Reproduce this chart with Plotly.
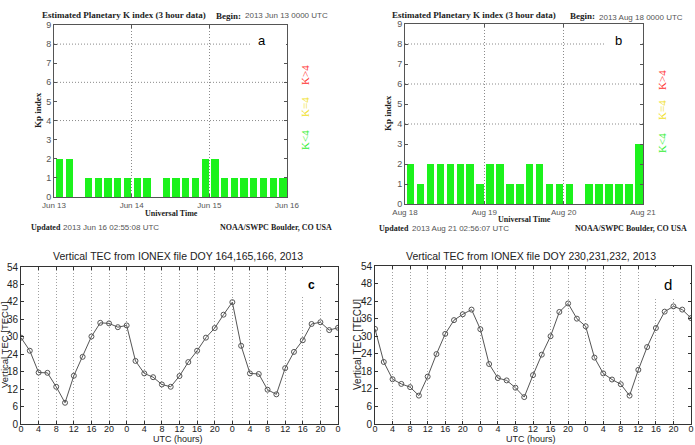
import plotly.graph_objects as go

W, H = 695, 445

# ---------------- data ----------------
slot_hours = list(range(0, 72, 3))
kp_a = [2, 2, 0, 1, 1, 1, 1, 1, 1, 1, 0, 1, 1, 1, 1, 2, 2, 1, 1, 1, 1, 1, 1, 1]
kp_b = [2, 1, 2, 2, 2, 2, 2, 1, 2, 2, 1, 1, 2, 2, 1, 1, 1, 0, 1, 1, 1, 1, 1, 3]
day_ticks = [0, 24, 48, 72]
day_labels_a = ["Jun 13", "Jun 14", "Jun 15", "Jun 16"]
day_labels_b = ["Aug 18", "Aug 19", "Aug 20", "Aug 21"]
kp_thresholds = [4, 6, 8]

tec_hours = list(range(0, 73, 2))
tec_c = [29.7, 25.2, 17.7, 17.6, 12.8, 7.3, 16.6, 23.1, 30.1, 34.8, 34.6, 33.3,
         33.9, 21.7, 17.4, 16.1, 13.6, 12.8, 16.5, 21.3, 25.2, 29.7, 33.0, 37.6,
         41.9, 26.9, 17.4, 17.2, 11.8, 10.2, 19.2, 24.8, 28.8, 34.4, 35.0, 32.3, 33.1]
tec_d = [32.5, 21.2, 15.3, 13.7, 12.6, 9.7, 16.2, 23.9, 30.8, 35.5, 37.5, 39.1,
         32.4, 20.5, 15.7, 14.9, 12.4, 9.2, 16.7, 23.7, 30.0, 38.3, 41.2, 36.0,
         33.4, 22.7, 17.3, 15.2, 13.6, 9.7, 18.5, 26.3, 32.8, 38.4, 40.2, 39.1, 36.2]
utc_tickvals = list(range(0, 73, 4))
utc_ticktext = [str(v % 24) for v in utc_tickvals]


def X(px):
    return px / W


def Y(py):
    return 1 - py / H


# pixel boxes of the four plot areas (left, right, top, bottom)
BOX = {
    "a": (54, 287, 25, 197),
    "b": (405, 643, 24, 204),
    "c": (21, 338, 267, 424),
    "d": (375, 691, 266, 424),
}

fig = go.Figure()

BAR_GREEN = "#1cf21c"
SERIF = "Liberation Serif"
SANS = "Liberation Sans"

# ---------------- bar panels ----------------
fig.add_trace(go.Bar(x=slot_hours, y=kp_a, width=2.25, offset=0.6,
                     marker=dict(color=BAR_GREEN, line=dict(width=0)),
                     xaxis="x", yaxis="y", showlegend=False))
fig.add_trace(go.Bar(x=slot_hours, y=kp_b, width=2.25, offset=0.6,
                     marker=dict(color=BAR_GREEN, line=dict(width=0)),
                     xaxis="x2", yaxis="y2", showlegend=False))

# ---------------- TEC panels ----------------
line_style = dict(color="#555555", width=1)
marker_style = dict(symbol="circle-open", size=5, color="#555555", line=dict(width=1))
fig.add_trace(go.Scatter(x=tec_hours, y=tec_c, mode="lines+markers", line=line_style,
                         marker=marker_style, xaxis="x3", yaxis="y3", showlegend=False))
fig.add_trace(go.Scatter(x=tec_hours, y=tec_d, mode="lines+markers", line=line_style,
                         marker=marker_style, xaxis="x4", yaxis="y4", showlegend=False))

kp_x_common = dict(range=[0, 72], tickvals=day_ticks, showgrid=True, griddash="1px,2px",
                   gridcolor="#8a8a8a", gridwidth=1, showline=True, linecolor="#555555",
                   linewidth=1, mirror="ticks", ticks="inside", ticklen=3,
                   tickcolor="#555555", zeroline=False, ticklabelstandoff=0, automargin=False,
                   tickfont=dict(family=SANS, size=8, color="#555555"))
kp_y_common = dict(range=[0, 9], dtick=1, showgrid=False, showline=True,
                   linecolor="#555555", linewidth=1, mirror="ticks", ticks="inside",
                   ticklen=3, tickcolor="#555555", zeroline=False, automargin=False,
                   tickfont=dict(family=SANS, size=9, color="#555555"))

tec_x_common = dict(range=[0, 72], tickvals=utc_tickvals, ticktext=utc_ticktext,
                    showgrid=True, griddash="1px,2px", gridcolor="#a0a0a0", gridwidth=1,
                    showline=True, linecolor="#333333", linewidth=1, mirror="ticks",
                    ticks="inside", ticklen=3, tickcolor="#333333", zeroline=False,
                    ticklabelstandoff=-4, automargin=False,
                    tickfont=dict(family=SANS, size=9, color="#222222"))
tec_y_common = dict(range=[0, 54], dtick=6, showgrid=False, showline=True,
                    linecolor="#333333", linewidth=1, mirror="ticks", ticks="inside",
                    ticklen=3, tickcolor="#333333", zeroline=False, automargin=False,
                    tickfont=dict(family=SANS, size=10, color="#222222"))


def dom(key):
    l, r, t, b = BOX[key]
    return [X(l), X(r)], [Y(b), Y(t)]


fig.update_layout(
    width=W, height=H, margin=dict(l=0, r=0, t=0, b=0, autoexpand=False),
    paper_bgcolor="white", plot_bgcolor="white", bargap=0,
    xaxis=dict(domain=dom("a")[0], anchor="y", ticktext=day_labels_a, **kp_x_common),
    yaxis=dict(domain=dom("a")[1], anchor="x", **kp_y_common),
    xaxis2=dict(domain=dom("b")[0], anchor="y2", ticktext=day_labels_b, **kp_x_common),
    yaxis2=dict(domain=dom("b")[1], anchor="x2", **kp_y_common),
    xaxis3=dict(domain=dom("c")[0], anchor="y3", **tec_x_common),
    yaxis3=dict(domain=dom("c")[1], anchor="x3", **tec_y_common),
    xaxis4=dict(domain=dom("d")[0], anchor="y4", **tec_x_common),
    yaxis4=dict(domain=dom("d")[1], anchor="x4", **tec_y_common),
)

shapes = []
for xa, ya in (("x", "y"), ("x2", "y2")):
    for t in kp_thresholds:
        shapes.append(dict(type="line", xref=xa + " domain", yref=ya, x0=0, x1=1, y0=t, y1=t,
                           line=dict(color="#8a8a8a", width=1, dash="1px,2px"), layer="below"))

# white boxes behind panel letters (pixel boxes converted to subplot-domain fractions)
label_boxes = [("a", "x", "y", 250, 286, 26, 55),
               ("b", "x2", "y2", 604, 640, 25, 55),
               ("c", "x3", "y3", 290, 336, 268, 297),
               ("d", "x4", "y4", 644, 690, 267, 297)]
for key, xa, ya, px0, px1, py0, py1 in label_boxes:
    l, r, t, b = BOX[key]
    shapes.append(dict(type="rect", xref=xa + " domain", yref=ya + " domain",
                       x0=(px0 - l) / (r - l), x1=(px1 - l) / (r - l),
                       y0=(b - py1) / (b - t), y1=(b - py0) / (b - t),
                       fillcolor="white", line=dict(width=0), layer="above"))
fig.update_layout(shapes=shapes)

ann = []


def text(x, y, s, size, color="#000000", family=SANS, angle=0, xanchor="center", bold=False,
         yanchor="middle"):
    if bold:
        s = "<b>" + s + "</b>"
    ann.append(dict(x=X(x), y=Y(y), xref="paper", yref="paper", text=s, showarrow=False,
                    font=dict(family=family, size=size, color=color), textangle=angle,
                    xanchor=xanchor, yanchor=yanchor))


# panel a texts
text(40, 15, "Estimated Planetary K index (3 hour data)", 9, "#222222", SERIF, xanchor="left", bold=True)
text(214, 16, "Begin:", 9, "#222222", SERIF, xanchor="left", bold=True)
text(243, 16, "2013 Jun 13 0000 UTC", 8, "#555555", SANS, xanchor="left")
text(38, 110, "Kp index", 9, "#222222", SERIF, angle=-90, bold=True)
text(171, 213, "Universal Time", 8, "#222222", SERIF, bold=True)
text(29, 228, "Updated", 8, "#222222", SERIF, xanchor="left", bold=True)
text(61, 228, "2013 Jun 16 02:55:08 UTC", 8, "#555555", SANS, xanchor="left")
text(218, 228, "NOAA/SWPC Boulder, CO USA", 8, "#222222", SERIF, xanchor="left", bold=True)
text(305, 75, "K&gt;4", 11, "#ff3030", SERIF, angle=-90)
text(305, 107, "K=4", 11, "#f0e028", SERIF, angle=-90)
text(305, 140, "K&lt;4", 11, "#33ee33", SERIF, angle=-90)
text(262, 41, "a", 13, "#000000", SANS)

# panel b texts
text(390, 15, "Estimated Planetary K index (3 hour data)", 9, "#222222", SERIF, xanchor="left", bold=True)
text(568, 16, "Begin:", 9, "#222222", SERIF, xanchor="left", bold=True)
text(597, 17, "2013 Aug 18 0000 UTC", 8, "#555555", SANS, xanchor="left")
text(388, 113, "Kp index", 9, "#222222", SERIF, angle=-90, bold=True)
text(524, 219, "Universal Time", 8, "#222222", SERIF, bold=True)
text(377, 229, "Updated", 8, "#222222", SERIF, xanchor="left", bold=True)
text(410, 229, "2013 Aug 21 02:56:07 UTC", 8, "#555555", SANS, xanchor="left")
text(573, 229, "NOAA/SWPC Boulder, CO USA", 8, "#222222", SERIF, xanchor="left", bold=True)
text(662, 80, "K&gt;4", 11, "#ff3030", SERIF, angle=-90)
text(662, 110, "K=4", 11, "#f0e028", SERIF, angle=-90)
text(662, 143, "K&lt;4", 11, "#33ee33", SERIF, angle=-90)
text(618, 41, "b", 13, "#000000", SANS)

# panel c texts
text(178, 256, "Vertical TEC from IONEX file DOY 164,165,166, 2013", 10.5, "#222222")
text(178, 446, "UTC (hours)", 9, "#222222", yanchor="bottom")
text(4, 345, "Vertical TEC [TECU]", 9.5, "#222222", angle=-90)
text(311, 285, "c", 12, "#000000", bold=True)

# panel d texts
text(531, 256, "Vertical TEC from IONEX file DOY 230,231,232, 2013", 10.5, "#222222")
text(531, 446, "UTC (hours)", 9, "#222222", yanchor="bottom")
text(357, 345, "Vertical TEC [TECU]", 10, "#222222", angle=-90)
text(668, 284, "d", 15, "#000000")

fig.update_layout(annotations=ann)
fig.write_html("out.html")
